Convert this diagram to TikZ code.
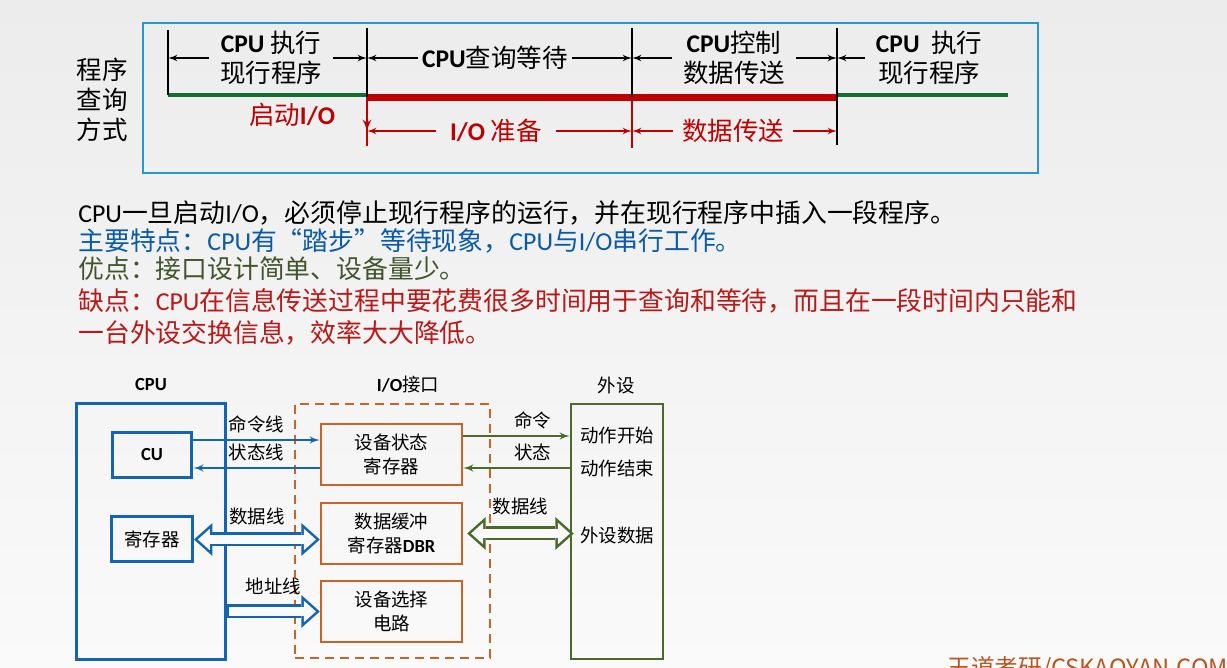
\documentclass[tikz,border=0pt]{standalone}
\usepackage{fontspec}
\setmainfont{Noto Sans CJK SC}
\newfontfamily\latfont{Carlito}
\newcommand{\en}[1]{{\latfont #1}}
\usetikzlibrary{shapes}
\usetikzlibrary{arrows}
\usetikzlibrary{arrows.meta}
\usetikzlibrary{positioning}
\usetikzlibrary{calc}

\definecolor{bgTop}{RGB}{236,236,236}
\definecolor{bgBottom}{RGB}{250,250,250}
\definecolor{frameBlue}{RGB}{40,150,210}
\definecolor{cpuBlue}{RGB}{20,100,180}
\definecolor{runGreen}{RGB}{20,110,50}
\definecolor{waitRed}{RGB}{190,0,0}
\definecolor{ioOrange}{RGB}{200,100,40}
\definecolor{devGreen}{RGB}{75,105,40}
\definecolor{noteBlue}{RGB}{10,90,170}
\definecolor{noteGreen}{RGB}{65,85,45}
\definecolor{noteRed}{RGB}{185,25,25}
\definecolor{markOrange}{RGB}{185,85,30}

\begin{document}
\begin{tikzpicture}[x = 0.02cm, y = -0.02cm, auto, > = latex', font = \fontsize{14.5}{17}\selectfont]
\tikzset{
  dimLine/.style = {line width = 0.03cm},
  tick/.style = {line width = 0.03cm},
  span/.style = {align = center, inner xsep = 6pt},
  note/.style = {anchor = west, inner sep = 0pt, font = \fontsize{14.7}{18}\selectfont},
  small/.style = {font = \fontsize{10.5}{14}\selectfont},
  block/.style = {draw = cpuBlue, line width = 0.06cm, small},
  port/.style = {draw = ioOrange, line width = 0.05cm, small, align = center, minimum width = 2.82cm, minimum height = 1.22cm},
  cpuLine/.style = {draw = cpuBlue, line width = 0.035cm, ->},
  devLine/.style = {draw = devGreen, line width = 0.035cm, ->},
  outerTip/.tip = {Triangle[length = 0.37cm, width = 0.66cm, line width = 0pt]},
  innerTip/.tip = {Triangle[length = 0.24cm, width = 0.43cm, line width = 0pt]},
  fatBoth/.style = {line width = 0.28cm, outerTip-outerTip,
    postaction = {draw = bgBottom, line width = 0.18cm, innerTip-innerTip, shorten < = 0.077cm, shorten > = 0.077cm}},
  fatOne/.style = {line width = 0.28cm, -outerTip,
    postaction = {draw = bgBottom, line width = 0.18cm, -innerTip, shorten < = 0.03cm, shorten > = 0.077cm}},
}
\useasboundingbox (0,0) rectangle (1227,667);
\clip (0,0) rectangle (1227,667);
\shade [top color = bgTop, bottom color = bgBottom] (0,0) rectangle (1227,667);

\draw [frameBlue, line width = 0.03cm] (143,23) rectangle (1038,173);
\node [align = center] (modeTitle) at (102,100) {程序\\查询\\方式};

\coordinate (runStart) at (168,95);
\coordinate (ioStart) at (367,97);
\coordinate (xferStart) at (632,97);
\coordinate (xferEnd) at (837,97);
\coordinate (runEnd) at (1008,95);

\draw [runGreen, line width = 0.08cm] (runStart) -- (runStart -| ioStart);
\draw [waitRed, line width = 0.14cm] (ioStart) -- (xferEnd);
\draw [runGreen, line width = 0.08cm] (xferEnd |- runEnd) -- (runEnd);
\draw [tick] (runStart) -- ++(0,-65);
\draw [tick] (ioStart) -- ++(0,-69);
\draw [tick] (xferStart) -- ++(0,-69);
\draw [tick] (xferEnd) -- ++(0,-69);
\draw [tick] (xferEnd) -- ++(0,48);
\draw [waitRed, line width = 0.05cm] (ioStart) -- ++(0,49);
\draw [waitRed, line width = 0.05cm, ->] (ioStart) -- ++(0,35);
\draw [waitRed, line width = 0.05cm] (xferStart) -- ++(0,51);

\node [span] (runLabel) at (271,58) {\textbf{\en{CPU}} 执行\\现行程序};
\node [span, inner xsep = 2pt] (waitLabel) at (495,58) {\textbf{\en{CPU}}查询等待};
\node [span] (xferLabel) at (734,58) {\textbf{\en{CPU}}控制\\数据传送};
\node [span] (resumeLabel) at (929,58) {\textbf{\en{CPU}}\ \ 执行\\现行程序};
\draw [dimLine, ->] (runLabel.west) -- (runLabel.west -| runStart);
\draw [dimLine, ->] (runLabel.east) -- (runLabel.east -| ioStart);
\draw [dimLine, ->] (waitLabel.west) -- (waitLabel.west -| ioStart);
\draw [dimLine, ->] (waitLabel.east) -- (waitLabel.east -| xferStart);
\draw [dimLine, ->] (xferLabel.west) -- (xferLabel.west -| xferStart);
\draw [dimLine, ->] (xferLabel.east) -- (xferLabel.east -| xferEnd);
\draw [dimLine, ->] (resumeLabel.west) -- (resumeLabel.west -| xferEnd);

\node [text = waitRed] (startLabel) at (292,115) {启动\textbf{\en{I/O}}};
\node [text = waitRed, inner xsep = 8pt] (prepLabel) at (496,131) {\textbf{\en{I/O}} 准备};
\node [text = waitRed, inner xsep = 5pt] (sendLabel) at (733,131) {数据传送};
\draw [waitRed, dimLine, ->] (prepLabel.west) -- (prepLabel.west -| ioStart);
\draw [waitRed, dimLine, ->] (prepLabel.east) -- (prepLabel.east -| xferStart);
\draw [waitRed, dimLine, ->] (sendLabel.west) -- (sendLabel.west -| xferStart);
\draw [waitRed, dimLine, ->] (sendLabel.east) -- (sendLabel.east -| xferEnd);

\node [note] (factLine) at (78,213) {\en{CPU}一旦启动\en{I/O}，必须停止现行程序的运行，并在现行程序中插入一段程序。};
\node [note, text = noteBlue] (traitLine) at (78,241) {主要特点：\en{CPU}有“踏步”等待现象，\en{CPU}与\en{I/O}串行工作。};
\node [note, text = noteGreen] (proLine) at (78,269) {优点：接口设计简单、设备量少。};
\node [note, text = noteRed] (conLine) at (78,301) {缺点：\en{CPU}在信息传送过程中要花费很多时间用于查询和等待，而且在一段时间内只能和};
\node [note, text = noteRed] (conLineTwo) at (78,333) {一台外设交换信息，效率大大降低。};

\node [small] (cpuTitle) at (151,385) {\textbf{\en{CPU}}};
\node [block, minimum width = 3cm, minimum height = 5.14cm] (cpuBox) at (151,531.5) {};
\node [block, minimum width = 1.6cm, minimum height = 0.9cm] (cuBlock) at (152,454.5) {\textbf{\en{CU}}};
\node [block, minimum width = 1.62cm, minimum height = 0.9cm, below of = cuBlock, node distance = 1.7cm] (regBlock) {寄存器};

\node [small] (ioTitle) at (408,385) {\textbf{\en{I/O}}接口};
\node [draw = ioOrange, line width = 0.05cm, dash pattern = on 0.18cm off 0.12cm, minimum width = 3.9cm, minimum height = 5.08cm] (ioBox) at (392.5,531) {};
\node [port] (statusReg) at (391.5,454.5) {设备状态\\寄存器};
\node [port, below of = statusReg, node distance = 1.58cm] (dataBuffer) {数据缓冲\\寄存器\textbf{\en{DBR}}};
\node [port, below of = dataBuffer, node distance = 1.56cm] (deviceSelect) {设备选择\\电路};

\node [small] (devTitle) at (616,385) {外设};
\node [draw = devGreen, line width = 0.05cm, minimum width = 1.84cm, minimum height = 5.1cm] (devBox) at (617,531.5) {};
\node [small] (devStart) at (617,436) {动作开始};
\node [small] (devEnd) at (617,468) {动作结束};
\node [small] (devData) at (617,535) {外设数据};

\draw [cpuLine] ([yshift = 0.29cm]cuBlock.east) -- node [small, above] {命令线} ([yshift = 0.29cm]cuBlock.east -| statusReg.west);
\draw [cpuLine] ([yshift = -0.27cm]statusReg.west) -- node [small, above] {状态线} ([yshift = -0.27cm]statusReg.west -| cuBlock.east);
\draw [fatBoth, draw = cpuBlue] (regBlock.east) -- node [small, above = 1pt] {数据线} (regBlock.east -| dataBuffer.west);
\draw [fatOne, draw = cpuBlue] (deviceSelect.west -| cpuBox.east) -- node [small, above = 2pt] {地址线} (deviceSelect.west);
\draw [devLine] ([yshift = 0.37cm]statusReg.east) -- node [small, above, pos = 0.65] {命令} ([yshift = 0.37cm]statusReg.east -| devBox.west);
\draw [devLine] ([yshift = -0.27cm]statusReg.east -| devBox.west) -- node [small, above, pos = 0.35] {状态} ([yshift = -0.27cm]statusReg.east);
\draw [fatBoth, draw = devGreen] ([xshift = 0.08cm]dataBuffer.east) -- node [small, above = 3pt] {数据线} ([xshift = 0.08cm]dataBuffer.east -| devBox.west);

\node [anchor = north west, inner sep = 0pt, text = markOrange, font = \fontsize{13.5}{16}\selectfont] (siteMark) at (947,656) {王道考研/CSKAOYAN.COM};
\end{tikzpicture}
\end{document}
